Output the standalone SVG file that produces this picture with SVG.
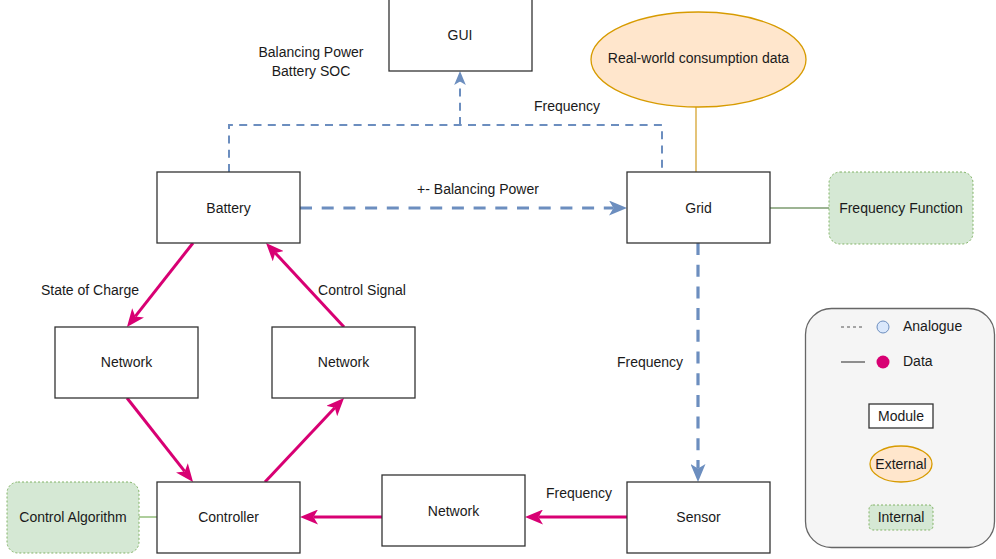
<svg xmlns="http://www.w3.org/2000/svg" width="996" height="559" viewBox="0 0 996 559">
<style>
text{font-family:"Liberation Sans",Arial,sans-serif;font-size:14px;fill:#1a1a1a;text-anchor:middle;dominant-baseline:central}
.mod{fill:#ffffff;stroke:#333333;stroke-width:1.3}
.int{fill:#d5e8d4;stroke:#82b366;stroke-width:1;stroke-dasharray:2 2}
.ext{fill:#ffe6cc;stroke:#d79b00;stroke-width:1.3}
.ana{fill:none;stroke:#6c8ebf;stroke-width:3.2;stroke-dasharray:12 9.7}
.ana2{fill:none;stroke:#6c8ebf;stroke-width:2;stroke-dasharray:8 6.3}
.dat{fill:none;stroke:#d80073;stroke-width:3}
</style>
<defs>
<marker id="ab" viewBox="0 0 12 10" markerUnits="userSpaceOnUse" markerWidth="18" markerHeight="15" refX="3" refY="5" orient="auto"><path d="M0,0 L12,5 L0,10 L3,5 z" fill="#6c8ebf"/></marker>
<marker id="ab2" viewBox="0 0 12 10" markerUnits="userSpaceOnUse" markerWidth="14" markerHeight="12" refX="3" refY="5" orient="auto"><path d="M0,0 L12,5 L0,10 L3,5 z" fill="#6c8ebf"/></marker>
<marker id="am" viewBox="0 0 12 10" markerUnits="userSpaceOnUse" markerWidth="18" markerHeight="15" refX="3" refY="5" orient="auto"><path d="M0,0 L12,5 L0,10 L3,5 z" fill="#d80073"/></marker>
</defs>
<g id="connectors">
<path class="ana" d="M300,208 L613.5,208" marker-end="url(#ab)"/>
<path class="ana2" d="M229,172 L229,125 L662,125 L662,172"/>
<path class="ana2" d="M460,125 L460,81.5" marker-end="url(#ab2)"/>
<path class="ana" d="M698,243 L698,468.5" marker-end="url(#ab)"/>
<path d="M696,107 L696,172" stroke="#d6a430" stroke-width="1.3" fill="none"/>
<path d="M770,208 L829,208" stroke="#7d9b6f" stroke-width="1.3" fill="none"/>
<path d="M139,517 L157,517" stroke="#82b366" stroke-width="1.3" fill="none"/>
<path class="dat" d="M627,517 L538.5,517" marker-end="url(#am)"/>
<path class="dat" d="M382,517 L313.5,517" marker-end="url(#am)"/>
<path class="dat" d="M193,243 L135.3,316.4" marker-end="url(#am)"/>
<path class="dat" d="M344,327 L275.2,252.9" marker-end="url(#am)"/>
<path class="dat" d="M127,398 L184.7,471.4" marker-end="url(#am)"/>
<path class="dat" d="M265,482 L334.8,407.8" marker-end="url(#am)"/>
<text x="478" y="189">+- Balancing Power</text>
<text x="311" y="52">Balancing Power</text>
<text x="311" y="71">Battery SOC</text>
<text x="567" y="106">Frequency</text>
<text x="650" y="362">Frequency</text>
<text x="579" y="493">Frequency</text>
<text x="90" y="290">State of Charge</text>
<text x="362" y="290">Control Signal</text>
</g>
<g id="gui"><rect class="mod" x="389" y="-1" width="143" height="72"/><text x="460" y="35">GUI</text></g>
<g id="consumption"><ellipse class="ext" cx="698.5" cy="59.5" rx="107.5" ry="47.5"/><text x="698.5" y="58">Real-world consumption data</text></g>
<g id="battery"><rect class="mod" x="157" y="172" width="143" height="71"/><text x="228.5" y="207.5">Battery</text></g>
<g id="grid"><rect class="mod" x="627" y="172" width="143" height="71"/><text x="698.5" y="207.5">Grid</text></g>
<g id="freqfunc"><rect class="int" x="829" y="172" width="144" height="72" rx="11"/><text x="901" y="208">Frequency Function</text></g>
<g id="netleft"><rect class="mod" x="55" y="327" width="143" height="71"/><text x="126.5" y="362">Network</text></g>
<g id="netright"><rect class="mod" x="272" y="327" width="143" height="71"/><text x="343.5" y="362">Network</text></g>
<g id="controller"><rect class="mod" x="157" y="482" width="143" height="71"/><text x="228.5" y="517">Controller</text></g>
<g id="ctrlalg"><rect class="int" x="7" y="482" width="132" height="71" rx="11"/><text x="73" y="517">Control Algorithm</text></g>
<g id="netbottom"><rect class="mod" x="382" y="475" width="143" height="71"/><text x="453.5" y="510.5">Network</text></g>
<g id="sensor"><rect class="mod" x="627" y="482" width="143" height="71"/><text x="698.5" y="517">Sensor</text></g>
<g id="legend">
<rect x="805.5" y="308.5" width="189" height="239" rx="26" fill="#f5f5f5" stroke="#666666" stroke-width="1.3"/>
<path d="M841,327 L865,327" stroke="#555" stroke-width="1" stroke-dasharray="3 3"/>
<circle cx="883" cy="327" r="6" fill="#dae8fc" stroke="#6c8ebf" stroke-width="1"/>
<text x="903" y="326" style="text-anchor:start">Analogue</text>
<path d="M841,362 L865,362" stroke="#555" stroke-width="1.3"/>
<circle cx="883" cy="362" r="6.5" fill="#d80073"/>
<text x="903" y="361" style="text-anchor:start">Data</text>
<rect class="mod" x="869" y="404" width="64" height="24"/>
<text x="901" y="416">Module</text>
<ellipse class="ext" cx="901" cy="464" rx="31" ry="18"/>
<text x="901" y="464">External</text>
<rect class="int" x="869" y="505" width="64" height="25" rx="4"/>
<text x="901" y="517">Internal</text>
</g>
</svg>
